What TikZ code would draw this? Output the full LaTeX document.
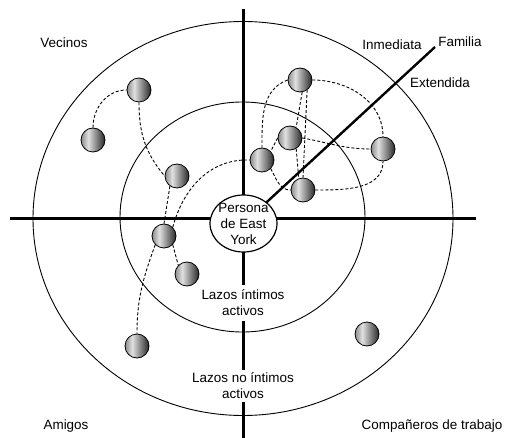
\documentclass[tikz,border=0pt]{standalone}
\usepackage{fontspec}
\setmainfont{Liberation Sans}
\usetikzlibrary{shapes.geometric}

\pgfdeclarehorizontalshading{sphere}{100bp}{color(0bp)=(black!45); color(25bp)=(black!45); color(40bp)=(black!12); color(75bp)=(black!85); color(100bp)=(black!85)}

\tikzset{
  axisline/.style={line width=3bp},
  spoke/.style={line width=2.4bp},
  ring/.style={line width=0.9bp},
  tie/.style={line width=0.9bp, dash pattern=on 3bp off 2bp},
  member/.style={circle, draw, line width=0.8bp, shading=sphere, minimum size=24bp, inner sep=0pt},
  tag/.style={font=\fontsize{13.5}{16}\selectfont, align=center, inner sep=1bp},
  ego/.style={ellipse, draw, line width=1.2bp, fill=white, minimum width=67bp, minimum height=57bp, inner sep=0pt}
}

\begin{document}
\begin{tikzpicture}[x=1bp, y=-1bp]
\useasboundingbox (0,0) rectangle (507,438);

% Rings and axes
\draw[ring] (243,218.5) ellipse [x radius=210, y radius=197];
\draw[ring] (242.5,217) ellipse [x radius=122.5, y radius=115];
\draw[axisline] (10,219) -- (476,219);
\draw[axisline] (243,9) -- (243,438);

% Ego in the middle
\node[ego] (ego) at (243.5,223.5) {};
\node[tag] (egotext) at (ego.center) {Persona\\de East\\York};

% Labels (manual placement)
\node[tag] (vecinos)    at (64,43)   {Vecinos};
\node[tag] (inmediata)  at (392,45)  {Inmediata};
\node[tag] (familia)    at (460,42)  {Familia};
\node[tag] (extendida)  at (440,83)  {Extendida};
\node[tag] (amigos)     at (66,426)  {Amigos};
\node[tag] (companeros) at (432,426) {Compañeros de trabajo};
\node[tag, fill=white, inner ysep=5bp] (intimos)   at (243,303) {Lazos íntimos\\activos};
\node[tag, fill=white, inner ysep=3bp] (nointimos) at (243,386) {Lazos no íntimos\\activos};

\coordinate (famtip) at (435,47);
\draw[spoke] (ego) -- (famtip);

% Members
\node[member] (v1) at (139,90)  {};
\node[member] (v2) at (93,140)  {};
\node[member] (c1) at (177,176) {};
\node[member] (c2) at (164,236) {};
\node[member] (c3) at (187,274) {};
\node[member] (a1) at (137,346) {};
\node[member] (w1) at (367,334) {};
\node[member] (f1) at (300,80)  {};
\node[member] (f2) at (290,138) {};
\node[member] (f3) at (262,160) {};
\node[member] (f4) at (383,149) {};
\node[member] (f5) at (303,190) {};

% Ties
\draw[tie] (v2.north) to[out=90, in=180] (v1.west);
\draw[tie] (v1.south) to[out=-90, in=130] (c1.west);
\draw[tie] (c1.235) -- (c2.north);
\draw[tie] (c2.north east) to[out=75, in=178] (f3.west);
\draw[tie] (c2.south east) -- (c3.north west);
\draw[tie] (c2.south west) to[out=250, in=90] (a1.north);
\draw[tie] (f1.west) to[out=200, in=90] (f3.north);
\draw[tie] (f1.east) to[out=0, in=90] (f4.north);
\draw[tie] (f1.-80) -- (f2.60);
\draw[tie] (f1.-55) -- (f5.north);
\draw[tie] (f2.west) -- (f3.north east);
\draw[tie] (f2.east) to[out=-10, in=180] (f4.west);
\draw[tie] (f2.-60) -- (f5.110);
\draw[tie] (f3.south east) to[out=-60, in=180] (f5.west);
\draw[tie] (f5.east) to[out=0, in=-90] (f4.south);
\end{tikzpicture}
\end{document}
